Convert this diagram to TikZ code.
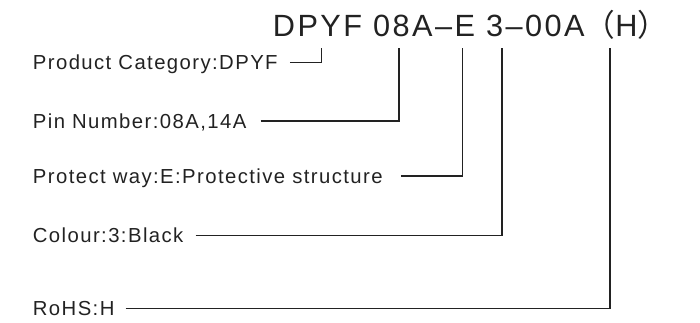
\documentclass[tikz,border=0pt]{standalone}
\usepackage{fontspec}
\setmainfont{Liberation Sans}[LetterSpace=7]
\newfontfamily\titlefont{Liberation Sans}[LetterSpace=8]
\newfontfamily\cjk{Noto Sans CJK SC}
\definecolor{code-ink}{HTML}{222222}

\begin{document}
\begin{tikzpicture}[x=1pt, y=-1pt,
        every node/.style={text=code-ink},
        lbl/.style={anchor=west, inner sep=0pt, text height=14.5pt, text depth=0pt,
                    font=\fontsize{20.3}{24}\selectfont},
        leader/.style={draw=code-ink, line width=1.2pt}]
      \useasboundingbox (0,0) rectangle (700,322);
      % model code
      \node[anchor=base west, inner sep=0pt, font=\titlefont\fontsize{30.7}{36}\selectfont]
            (CODE) at (272.7,36) {DPYF 08A–E 3–00A{\cjk（}H{\cjk）}};
      % tick points under the code
      \coordinate (tCAT) at (321.7,48);
      \coordinate (tPIN) at (399,48);
      \coordinate (tPROT) at (462.7,48);
      \coordinate (tCOL) at (502,48);
      \coordinate (tROHS) at (610,48);
      % labels
      \node[lbl] (CAT) at (32.7,62.5) {Product Category:DPYF};
      \node[lbl] (PIN) at (32.7,121) {Pin Number:08A,14A};
      \node[lbl] (PROT) at (32.7,176) {Protect way:E:Protective structure};
      \node[lbl] (COL) at (32.7,235.7) {Colour:3:Black};
      \node[lbl] (ROHS) at (32.7,308.5) {RoHS:H};
      % leaders
      \draw[leader] ([xshift=12pt]CAT.east) -| (tCAT);
      \draw[leader] ([xshift=14pt]PIN.east) -| (tPIN);
      \draw[leader] ([xshift=18pt]PROT.east) -| (tPROT);
      \draw[leader] ([xshift=12pt]COL.east) -| (tCOL);
      \draw[leader] ([xshift=11pt]ROHS.east) -| (tROHS);
    \end{tikzpicture}
\end{document}
